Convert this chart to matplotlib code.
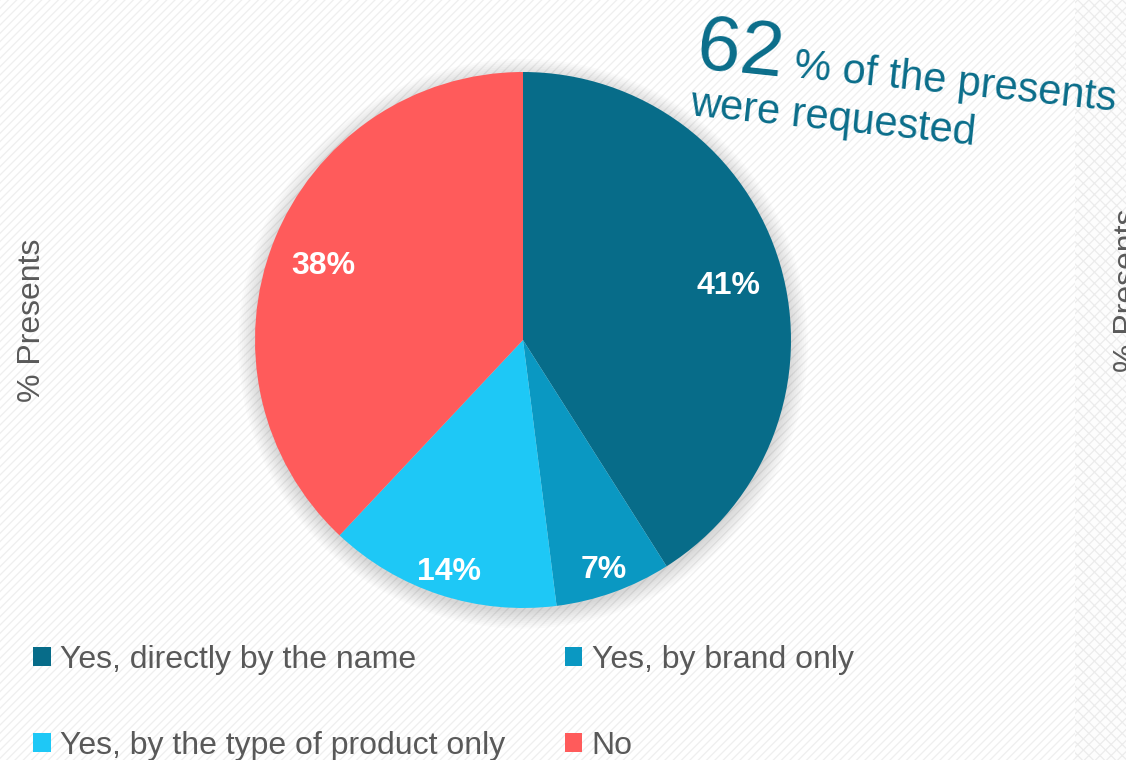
import numpy as np
import matplotlib
matplotlib.use('Agg')
import matplotlib.pyplot as plt
from matplotlib.patches import Patch, Rectangle, Circle

plt.rcParams['font.family'] = ['Liberation Sans', 'DejaVu Sans']

# slice data
labels = ['Yes, directly by the name', 'Yes, by brand only',
          'Yes, by the type of product only', 'No']
shares = [41, 7, 14, 38]
colors = ['#076C89', '#0A98C2', '#1EC8F6', '#FF5B5B']
requested_pct = 62

TEAL = '#0A6D8A'
GREY = '#595959'
W, H = 1126, 760

fig = plt.figure(figsize=(W / 100, H / 100), dpi=100)
fig.patch.set_facecolor('white')

# faint diagonal texture over the whole background
bg = fig.add_axes([0, 0, 1, 1])
bg.set_xlim(0, W)
bg.set_ylim(H, 0)
bg.axis('off')
plt.rcParams['hatch.color'] = '#efefef'
plt.rcParams['hatch.linewidth'] = 0.9
bg.add_patch(Rectangle((0, 0), 1075, H, facecolor='white', edgecolor='#efefef',
                       hatch='////', linewidth=0))
bg.add_patch(Rectangle((1075, 0), W - 1075, H, facecolor='#fdfdfd',
                       edgecolor='#ececec', hatch='xxx', linewidth=0))

# pie axes: centre (523, 340), radius 268 px
cx, cy, r = 523, 340, 268
ax = fig.add_axes([(cx - r) / W, (H - cy - r) / H, 2 * r / W, 2 * r / H])
ax.axis('off')

# soft drop shadow under the pie
for i in range(10):
    ax.add_patch(Circle((0, -0.014), 1.0 + 0.007 * i, facecolor='black',
                        edgecolor='none', alpha=0.017, zorder=0, clip_on=False))

wedges, _ = ax.pie(shares, colors=colors, startangle=90, counterclock=False,
                   radius=1, wedgeprops=dict(linewidth=0))
for w in wedges:
    w.set_zorder(2)
ax.set_xlim(-1, 1)
ax.set_ylim(-1, 1)

# percentage labels inside each slice
label_r = [0.80, 0.89, 0.89, 0.80]
cum = np.cumsum([0] + shares[:-1])
for s, c, lr in zip(shares, cum, label_r):
    ang = np.deg2rad(90 - (c + s / 2) / sum(shares) * 360)
    ax.text(lr * np.cos(ang), lr * np.sin(ang) - 0.02, f'{s}%', ha='center',
            va='center', color='white', fontsize=23, fontweight='bold', zorder=3)

# axis titles
fig.text(32 / W, 1 - 320 / H, '% Presents', rotation=90, ha='center', va='center',
         fontsize=23, color=GREY)
fig.text(1128 / W, 1 - 372 / H, '% Presents', rotation=90, ha='center', va='bottom',
         fontsize=23, color=GREY)

# callout
fig.text(695 / W, 1 - 68 / H, f'{requested_pct}', rotation=-6, rotation_mode='anchor',
         ha='left', va='baseline', fontsize=56, color=TEAL)
fig.text(793 / W, 1 - 77 / H, '% of the presents', rotation=-6, rotation_mode='anchor',
         ha='left', va='baseline', fontsize=30, color=TEAL)
fig.text(689 / W, 1 - 115 / H, 'were requested', rotation=-6, rotation_mode='anchor',
         ha='left', va='baseline', fontsize=30, color=TEAL)

# legend (column-wise fill: name/type, brand/no)
order = [0, 2, 1, 3]
handles = [Patch(facecolor=colors[i], edgecolor='none') for i in order]
leg = fig.legend(handles, [labels[i] for i in order], ncol=2,
                 loc='upper left', bbox_to_anchor=(33 / W, 1 - 645 / H),
                 frameon=False, fontsize=23, handlelength=0.55, handleheight=0.55,
                 handletextpad=0.3, labelspacing=1.75, columnspacing=1.85,
                 borderaxespad=0, borderpad=0)
for t in leg.get_texts():
    t.set_color(GREY)

fig.savefig('out.png', dpi=100, facecolor='white')
